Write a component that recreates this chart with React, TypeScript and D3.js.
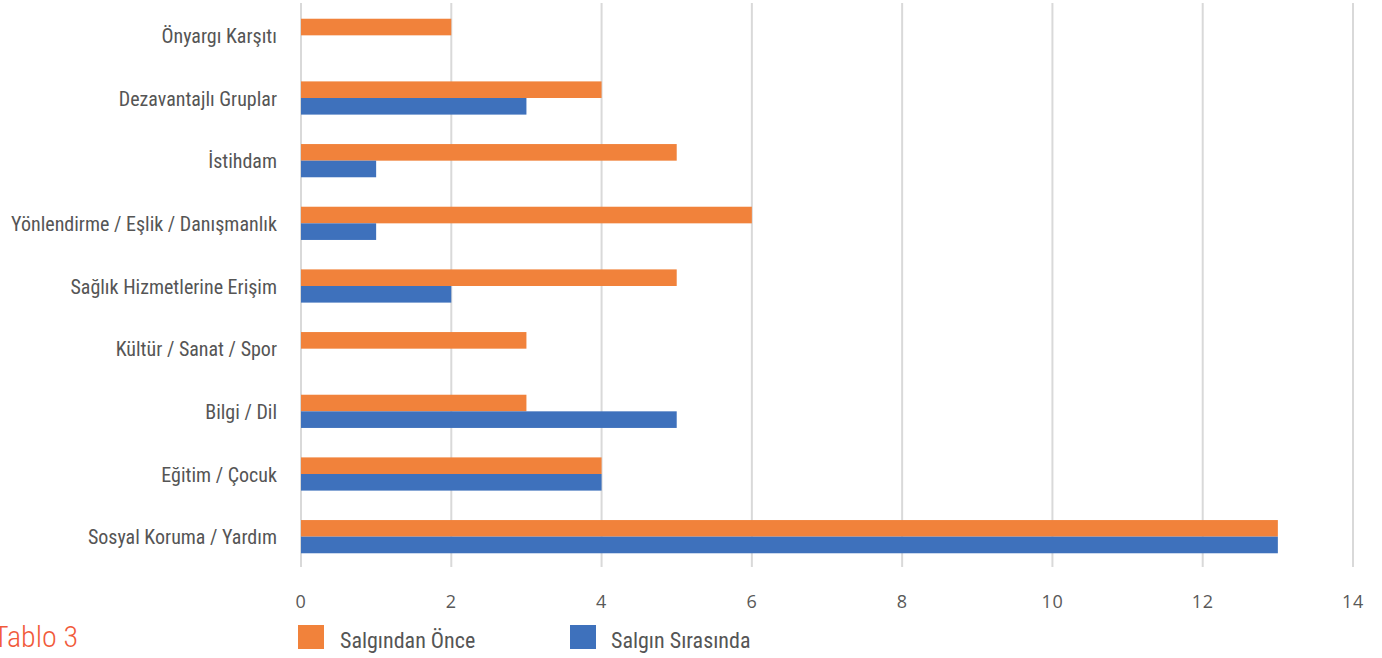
import React from "react";
import * as d3 from "d3";

const categories = [
  "Önyargı Karşıtı",
  "Dezavantajlı Gruplar",
  "İstihdam",
  "Yönlendirme / Eşlik / Danışmanlık",
  "Sağlık Hizmetlerine Erişim",
  "Kültür / Sanat / Spor",
  "Bilgi / Dil",
  "Eğitim / Çocuk",
  "Sosyal Koruma / Yardım",
];
const before = [2, 4, 5, 6, 5, 3, 3, 4, 13];
const during = [0, 3, 1, 1, 2, 0, 5, 4, 13];
const seriesNames = ["Salgından Önce", "Salgın Sırasında"];
const xTicks = [0, 2, 4, 6, 8, 10, 12, 14];

const W = 1382;
const H = 658;
const ORANGE = "#F1823B";
const BLUE = "#3E71BC";
const labelFont = "'Roboto Condensed', 'Liberation Sans Narrow', 'DejaVu Sans Condensed', Roboto, sans-serif";
const tickFont = "'Open Sans', 'Noto Sans', sans-serif";

export default function App() {
  const x = d3.scaleLinear().domain([0, 14]).range([301, 1353]);
  const y = d3.scaleBand<string>().domain(categories).range([4, 568]).paddingInner(0.47).paddingOuter(0.235);
  const bw = y.bandwidth() / 2;
  return (
    <svg width={W} height={H} style={{ position: "absolute", left: 0, top: 0, background: "#fff" }}>
      {xTicks.map((t) => (
        <g key={t}>
          <line x1={x(t)} x2={x(t)} y1={3} y2={567} stroke="#D9D9D9" strokeWidth={2} />
          <text x={x(t)} y={608} textAnchor="middle" fontFamily={tickFont} fontSize={18} letterSpacing={0.6} fill="#595959">
            {t}
          </text>
        </g>
      ))}
      {categories.map((c, i) => (
        <g key={c}>
          {before[i] > 0 && (
            <rect x={x(0)} y={y(c)!} width={x(before[i]) - x(0)} height={bw} fill={ORANGE} />
          )}
          {during[i] > 0 && (
            <rect x={x(0)} y={y(c)! + bw} width={x(during[i]) - x(0)} height={bw} fill={BLUE} />
          )}
          <text
            x={277}
            y={y(c)! + bw}
            dy="0.38em"
            textAnchor="end"
            fontFamily={labelFont}
            fontStretch="condensed"
            fontSize={20}
            fill="#555"
          >
            {c}
          </text>
        </g>
      ))}
      <text x={-7} y={647} fontFamily={labelFont} fontStretch="condensed" fontWeight={300} fontSize={30} fill="#F15A3A">
        Tablo 3
      </text>
      <rect x={298} y={625} width={26} height={24} fill={ORANGE} />
      <text x={340} y={648} fontFamily={labelFont} fontStretch="condensed" fontSize={22} fill="#555">
        {seriesNames[0]}
      </text>
      <rect x={570} y={625} width={26} height={24} fill={BLUE} />
      <text x={611} y={648} fontFamily={labelFont} fontStretch="condensed" fontSize={22} fill="#555">
        {seriesNames[1]}
      </text>
    </svg>
  );
}
